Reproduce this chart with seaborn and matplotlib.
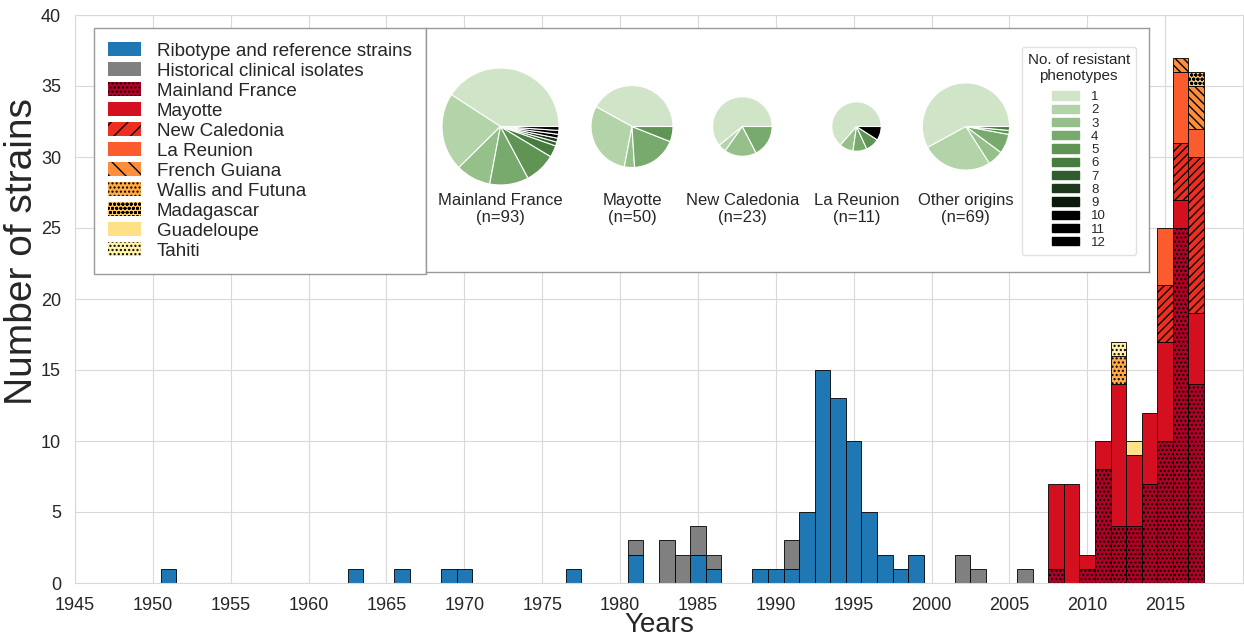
import matplotlib
matplotlib.use("Agg")
import matplotlib.pyplot as plt
from matplotlib.patches import Patch
from matplotlib.colors import to_rgb
import numpy as np
import pandas as pd
import seaborn as sns

# ---------------------------------------------------------------------------
# Strain counts per isolation year, by origin
# ---------------------------------------------------------------------------
ribotype_years = [1951, 1963, 1966, 1969, 1970, 1977, 1981, 1985, 1986, 1989,
                  1990, 1991, 1992, 1993, 1994, 1995, 1996, 1997, 1998, 1999]
ribotype_counts = [1, 1, 1, 1, 1, 1, 2, 2, 1, 1,
                   1, 1, 5, 15, 13, 10, 5, 2, 1, 2]

historical_years = [1981, 1983, 1984, 1985, 1986, 1991, 2002, 2003, 2006]
historical_counts = [1, 3, 2, 2, 1, 2, 2, 1, 1]

recent_years = [2008, 2009, 2010, 2011, 2012, 2013, 2014, 2015, 2016, 2017]
mainland_france = [1, 0, 1, 8, 4, 4, 7, 10, 25, 14]
mayotte = [6, 7, 1, 2, 10, 5, 5, 7, 2, 5]
new_caledonia = [0, 0, 0, 0, 0, 0, 0, 4, 4, 11]
la_reunion = [0, 0, 0, 0, 0, 0, 0, 4, 5, 2]
french_guiana = [0, 0, 0, 0, 0, 0, 0, 0, 1, 3]
wallis_futuna = [0, 0, 0, 0, 2, 0, 0, 0, 0, 0]
madagascar = [0, 0, 0, 0, 0, 0, 0, 0, 0, 1]
guadeloupe = [0, 0, 0, 0, 0, 1, 0, 0, 0, 0]
tahiti = [0, 0, 0, 0, 1, 0, 0, 0, 0, 0]

origins = ["Ribotype and reference strains", "Historical clinical isolates",
           "Mainland France", "Mayotte", "New Caledonia", "La Reunion",
           "French Guiana", "Wallis and Futuna", "Madagascar", "Guadeloupe",
           "Tahiti"]

# Number of strains per count of resistant phenotypes (1..12), by origin
phenotype_levels = list(range(1, 13))
pie_groups = ["Mainland France", "Mayotte", "New Caledonia", "La Reunion",
              "Other origins"]
pie_mainland = [38, 20, 9, 10, 8, 3, 1, 1, 0, 1, 1, 1]
pie_mayotte = [21, 15, 2, 9, 3, 0, 0, 0, 0, 0, 0, 0]
pie_new_caledonia = [14, 1, 4, 4, 0, 0, 0, 0, 0, 0, 0, 0]
pie_la_reunion = [7, 0, 1, 1, 1, 0, 0, 0, 0, 1, 0, 0]
pie_other = [40, 18, 4, 5, 1, 1, 0, 0, 0, 0, 0, 0]

# ---------------------------------------------------------------------------
# Styling
# ---------------------------------------------------------------------------
sns.set_style("whitegrid", {"grid.color": "0.85", "axes.edgecolor": "0.85"})
plt.rcParams["font.family"] = ["Liberation Sans", "DejaVu Sans"]

origin_colors = ["#1f77b4", "#808080"] + list(sns.color_palette("YlOrRd_r", 9))
bar_hatches = {"Mainland France": "....", "New Caledonia": "////",
               "French Guiana": "\\\\\\\\", "Wallis and Futuna": "....",
               "Madagascar": "oooo", "Tahiti": "...."}
legend_hatches = {"Mainland France": "....", "New Caledonia": "//",
                  "French Guiana": "\\\\", "Wallis and Futuna": "....",
                  "Madagascar": "oooo", "Tahiti": "...."}
phenotype_colors = ["#d0e4c8", "#b3d3a8", "#95c08a", "#79aa6d", "#5f9455",
                    "#477c3f", "#2f5d2c", "#1c391b", "#0c180c", "#000000",
                    "#000000", "#000000"]

W, H = 1244, 642
fig = plt.figure(figsize=(W / 100, H / 100), dpi=100)
ax = fig.add_axes([75 / W, 1 - 583 / H, 1168 / W, 568 / H])

# Long-form table of counts
series = [(origins[0], ribotype_years, ribotype_counts),
          (origins[1], historical_years, historical_counts)]
for name, vals in zip(origins[2:], [mainland_france, mayotte, new_caledonia,
                                    la_reunion, french_guiana, wallis_futuna,
                                    madagascar, guadeloupe, tahiti]):
    series.append((name, recent_years, vals))
rows = [(name, y, c) for name, yrs, cnts in series
        for y, c in zip(yrs, cnts) if c > 0]
df = pd.DataFrame(rows, columns=["origin", "year", "count"])

palette = dict(zip(origins, origin_colors))
sns.histplot(data=df, x="year", weights="count", hue="origin",
             hue_order=origins[::-1], palette=palette, multiple="stack",
             discrete=True, shrink=1, alpha=1, edgecolor="black",
             linewidth=0.6, legend=False, ax=ax)

# hatches per origin, empty bins hidden
rgb_list = [np.array(to_rgb(c)) for c in origin_colors]
for p in ax.patches:
    if p.get_height() <= 0:
        p.set_visible(False)
        continue
    fc = np.array(p.get_facecolor()[:3])
    idx = int(np.argmin([np.abs(fc - c).sum() for c in rgb_list]))
    h = bar_hatches.get(origins[idx])
    if h:
        p.set_hatch(h)

ax.set_xlim(1945, 2020)
ax.set_ylim(0, 40)
ax.set_xticks(range(1945, 2016, 5))
ax.set_yticks(range(0, 41, 5))
ax.tick_params(labelsize=13, pad=6.5)
ax.set_xlabel("Years", fontsize=20)
ax.set_ylabel("Number of strains", fontsize=28)
ax.xaxis.set_label_coords(0.5004, -0.0505)
ax.yaxis.set_label_coords(-0.0300, 0.584)

handles = [Patch(facecolor=c, edgecolor="black", linewidth=0,
                 hatch=legend_hatches.get(o), label=o)
           for o, c in zip(origins, origin_colors)]
ax.legend(handles=handles, loc="upper left",
          bbox_to_anchor=(94 / W, 1 - 28 / H), bbox_transform=fig.transFigure,
          fontsize=13.5, frameon=True, fancybox=False, edgecolor="0.6",
          framealpha=1, borderaxespad=0, borderpad=0.75, labelspacing=0.13,
          handlelength=1.75, handleheight=0.78, handletextpad=0.85)

# ---------------------------------------------------------------------------
# Inset with resistance pies
# ---------------------------------------------------------------------------
bx0, by0, bx1, by1 = 426, 28, 1149, 272
pax = fig.add_axes([bx0 / W, 1 - by1 / H, (bx1 - bx0) / W, (by1 - by0) / H])
pie_centers = [500.5, 632, 742.4, 856.5, 965.9]
pie_radii = [58.5, 41, 29.8, 24.7, 43.6]
pie_data = [pie_mainland, pie_mayotte, pie_new_caledonia, pie_la_reunion,
            pie_other]
for name, counts, cx, r in zip(pie_groups, pie_data, pie_centers, pie_radii):
    vals = [c for c in counts if c > 0]
    cols = [phenotype_colors[i] for i, c in enumerate(counts) if c > 0]
    pax.pie(vals, colors=cols, center=(cx - bx0, by1 - 126.5), radius=r,
            startangle=0, counterclock=True, frame=True,
            wedgeprops=dict(edgecolor="white", linewidth=0.8))
    pax.text(cx - bx0, by1 - 209, f"{name}\n(n={sum(counts)})",
             ha="center", va="center", fontsize=12, color=".15")
pax.set_xlim(0, bx1 - bx0)
pax.set_ylim(0, by1 - by0)
pax.set_aspect("auto")
pax.set_xticks([])
pax.set_yticks([])
pax.grid(False)
pax.set_facecolor("white")
for s in pax.spines.values():
    s.set_edgecolor("0.6")
    s.set_linewidth(1)

ph_handles = [Patch(facecolor=c, edgecolor=c, label=str(k))
              for k, c in zip(phenotype_levels, phenotype_colors)]
pl = pax.legend(handles=ph_handles, title="No. of resistant\nphenotypes",
                loc="upper left", alignment="center",
                bbox_to_anchor=((1021.7 - bx0) / (bx1 - bx0),
                                (by1 - 46.7) / (by1 - by0)),
                borderaxespad=0, fontsize=9.5, title_fontsize=11,
                frameon=True, fancybox=True, edgecolor="0.85",
                labelspacing=0.095, handlelength=2.1, handleheight=0.6,
                handletextpad=0.9, borderpad=0.45)
pl.get_title().set_multialignment("center")
# a little more room between the title and the colour keys
pl._legend_box.sep = 6

fig.savefig("out.png", dpi=100)
